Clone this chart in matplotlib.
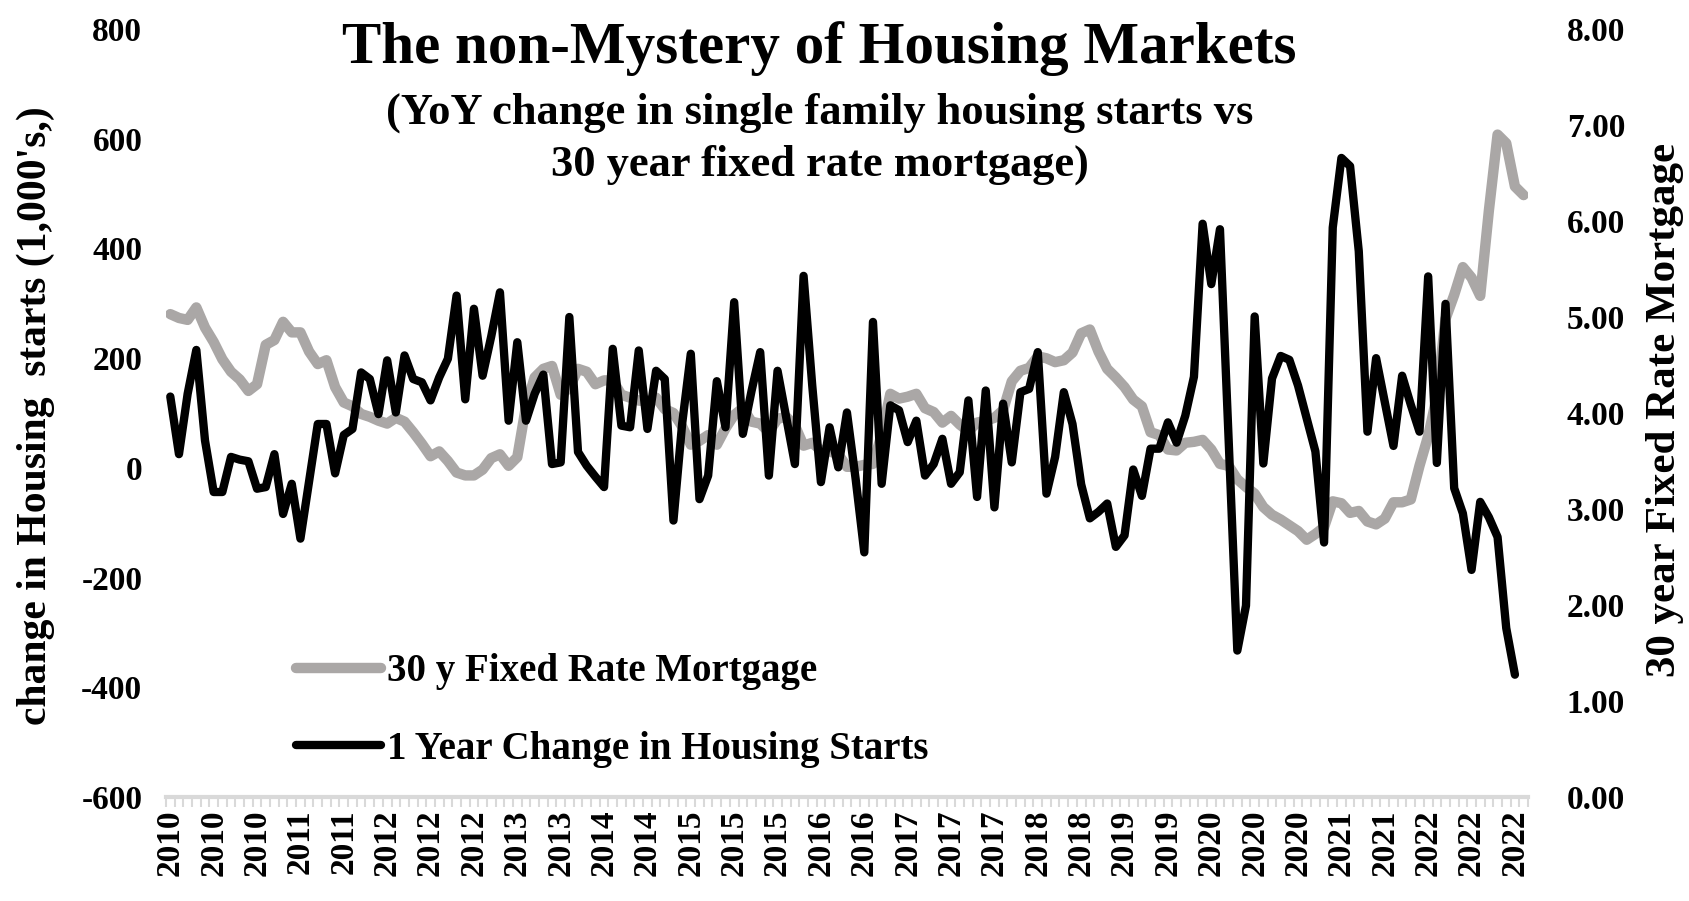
import matplotlib
matplotlib.use("Agg")
import matplotlib.pyplot as plt
from matplotlib.lines import Line2D
import numpy as np

plt.rcParams['font.family'] = ['Liberation Serif', 'DejaVu Serif']
plt.rcParams['font.weight'] = 'bold'

# 30 year fixed rate mortgage, monthly, Jan 2010 .. Jan 2023
mortgage = [
    5.03, 4.99, 4.97, 5.10, 4.89, 4.74, 4.56, 4.43, 4.35, 4.23, 4.30, 4.71,
    4.76, 4.95, 4.84, 4.84, 4.64, 4.51, 4.55, 4.27, 4.11, 4.07, 3.99, 3.96,
    3.92, 3.89, 3.95, 3.91, 3.80, 3.68, 3.55, 3.60, 3.50, 3.38, 3.35, 3.35,
    3.41, 3.53, 3.57, 3.45, 3.54, 4.07, 4.37, 4.46, 4.49, 4.19, 4.26, 4.46,
    4.43, 4.30, 4.34, 4.34, 4.19, 4.16, 4.13, 4.12, 4.16, 4.04, 4.00, 3.86,
    3.67, 3.71, 3.77, 3.67, 3.84, 3.98, 4.05, 3.91, 3.89, 3.80, 3.94, 3.96,
    3.87, 3.66, 3.69, 3.61, 3.60, 3.57, 3.44, 3.44, 3.46, 3.47, 3.77, 4.20,
    4.15, 4.17, 4.20, 4.05, 4.01, 3.90, 3.97, 3.88, 3.81, 3.90, 3.92, 3.95,
    4.03, 4.33, 4.44, 4.47, 4.59, 4.57, 4.53, 4.55, 4.63, 4.83, 4.87, 4.64,
    4.46, 4.37, 4.27, 4.14, 4.07, 3.80, 3.77, 3.62, 3.61, 3.69, 3.70, 3.72,
    3.62, 3.47, 3.45, 3.31, 3.23, 3.16, 3.02, 2.94, 2.89, 2.83, 2.77, 2.68,
    2.74, 2.81, 3.08, 3.06, 2.96, 2.98, 2.87, 2.84, 2.90, 3.07, 3.07, 3.10,
    3.45, 3.76, 4.17, 4.98, 5.23, 5.52, 5.41, 5.22, 6.11, 6.90, 6.81, 6.36,
    6.27,
]

# 1 year change in single family housing starts (1,000's), Jan 2010 .. Dec 2022
starts = [
    130, 25, 135, 215, 50, -44, -44, 20, 15, 12, -38, -35,
    25, -84, -29, -129, -25, 80, 80, -10, 60, 71, 174, 162,
    98, 196, 101, 205, 162, 156, 123, 165, 199, 314, 125, 290,
    168, 240, 320, 86, 229, 86, 135, 170, 7, 10, 275, 29,
    4, -16, -35, 217, 77, 74, 214, 71, 177, 162, -96, 80,
    208, -57, -14, 158, 74, 302, 62, 140, 211, -14, 177, 92,
    7, 350, 150, -26, 74, 1, 101, -20, -154, 266, -29, 114,
    105, 47, 86, -14, 7, 53, -29, -8, 123, -53, 141, -72,
    117, 10, 138, 144, 211, -47, 20, 138, 80, -30, -92, -80,
    -65, -144, -123, -3, -51, 35, 35, 83, 46, 95, 166, 445,
    335, 435, 50, -333, -251, 276, 8, 163, 204, 197, 150, 90,
    30, -136, 438, 565, 550, 395, 66, 200, 120, 40, 168, 115,
    66, 349, 9, 299, -37, -83, -186, -62, -90, -126, -292, -377,
]

cat_years = [2010 + m // 12 for m in range(len(mortgage))]
left_ticks = [-600, -400, -200, 0, 200, 400, 600, 800]
right_ticks = [0, 1, 2, 3, 4, 5, 6, 7, 8]

GRAY = '#aaa7a6'

fig = plt.figure(figsize=(16.9, 9.01), dpi=100)
ax = fig.add_axes([0.0982, 0.1154, 0.8059, 0.8524])
ax2 = ax.twinx()

x = np.arange(len(mortgage))
ax2.plot(x, mortgage, color=GRAY, lw=7.5, solid_joinstyle='round', solid_capstyle='round')
ax.plot(x[:len(starts)], starts, color='black', lw=6, solid_joinstyle='round', solid_capstyle='round')
ax.set_zorder(ax2.get_zorder() + 1)
ax.patch.set_visible(False)

ax.set_xlim(-0.5, len(mortgage) - 0.5)
ax.set_ylim(-600, 800)
ax2.set_ylim(0, 8)

for a in (ax, ax2):
    for s in a.spines.values():
        s.set_visible(False)
ax.spines['bottom'].set_visible(True)
ax.spines['bottom'].set_color('#d9d9d9')
ax.spines['bottom'].set_linewidth(3)

ax.set_yticks(left_ticks)
ax.set_yticklabels([str(v) for v in left_ticks])
ax.tick_params(axis='y', length=0, pad=17, labelsize=24)
ax2.set_yticks(right_ticks)
ax2.set_yticklabels([f"{v:.2f}" for v in right_ticks])
ax2.tick_params(axis='y', length=0, pad=28, labelsize=24)

major = list(range(0, len(mortgage), 5))
ax.set_xticks(major)
ax.set_xticklabels([str(cat_years[i]) for i in major], rotation=90)
ax.tick_params(axis='x', which='major', length=0, pad=9, labelsize=24)
ax.set_xticks(np.arange(-0.5, len(mortgage), 1), minor=True)
ax.tick_params(axis='x', which='minor', length=7, width=1.5, color='#d9d9d9')

fig.text(0.021, 0.539, "change in Housing  starts (1,000's,)", rotation=90,
         ha='center', va='center', fontsize=30)
fig.text(0.985, 0.545, "30 year Fixed Rate Mortgage", rotation=90,
         ha='center', va='center', fontsize=31)

fig.text(0.485, 0.946, "The non-Mystery of Housing Markets", ha='center', va='center', fontsize=42.5)
fig.text(0.485, 0.875, "(YoY change in single family housing starts vs", ha='center', va='center', fontsize=32)
fig.text(0.485, 0.817, "30 year fixed rate mortgage)", ha='center', va='center', fontsize=32)

handles = [Line2D([], [], color=GRAY, lw=7.5, solid_capstyle='round'),
           Line2D([], [], color='black', lw=6, solid_capstyle='round')]
ax.legend(handles, ["30 y Fixed Rate Mortgage", "1 Year Change in Housing Starts"],
          loc='upper left', bbox_to_anchor=(0.175, 0.275), bbox_transform=fig.transFigure,
          frameon=False, fontsize=28, handlelength=2.2, handletextpad=0.15,
          labelspacing=1.05, borderpad=0, borderaxespad=0)

fig.savefig("out.png", dpi=100)
